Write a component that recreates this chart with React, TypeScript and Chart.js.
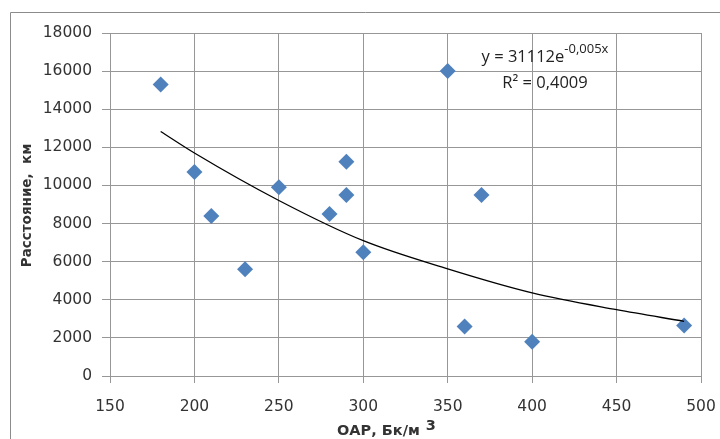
import React, { useEffect, useRef } from 'react';
import { Chart, registerables } from 'chart.js';

Chart.register(...registerables);

// Scatter data: ОАР (Бк/м³) vs Расстояние (км)
const oarValues = [180, 200, 210, 230, 250, 280, 290, 290, 300, 350, 360, 370, 400, 490];
const distanceValues = [15300, 10700, 8400, 5600, 9900, 8500, 11250, 9500, 6500, 16000, 2600, 9500, 1800, 2650];

// Exponential trendline
const trendX = [180, 200, 250, 300, 350, 400, 450, 490];
const trendY = [12830, 11700, 9210, 7100, 5620, 4360, 3480, 2870];

// Axis ticks
const xTickValues = [150, 200, 250, 300, 350, 400, 450, 500];
const yTickValues = [0, 2000, 4000, 6000, 8000, 10000, 12000, 14000, 16000, 18000];

// Texts
const xTitle = 'ОАР, Бк/м';
const xTitleSup = '3';
const yTitle = 'Расстояние,  км';
const equationMain = 'y = 31112e';
const equationExp = '-0,005x';
const r2Text = 'R² = 0,4009';

const GRID = '#979797';
const TEXT = '#333333';
const MARKER = '#4f81bd';

const overlayPlugin = {
  id: 'overlay',
  afterDraw(chart: any) {
    const ctx = chart.ctx as CanvasRenderingContext2D;
    const area = chart.chartArea;
    ctx.save();
    // outer frame (right and bottom sides lie outside the picture)
    ctx.strokeStyle = '#8c8c8c';
    ctx.lineWidth = 1;
    ctx.beginPath();
    ctx.moveTo(10.5, chart.height);
    ctx.lineTo(10.5, 12.5);
    ctx.lineTo(chart.width, 12.5);
    ctx.stroke();

    // equation
    const cx = area.left + 435;
    const mainFont = '16.5px "Open Sans"';
    const supFont = '13px "Open Sans"';
    ctx.fillStyle = '#222';
    ctx.textBaseline = 'alphabetic';
    ctx.textAlign = 'left';
    ctx.font = mainFont;
    const wMain = ctx.measureText(equationMain).width;
    ctx.font = supFont;
    const wSup = ctx.measureText(equationExp).width;
    const x0 = cx - (wMain + wSup) / 2;
    const base1 = area.top + 29;
    ctx.font = mainFont;
    ctx.fillText(equationMain, x0, base1);
    ctx.font = supFont;
    ctx.fillText(equationExp, x0 + wMain, base1 - 9);
    ctx.font = mainFont;
    ctx.textAlign = 'center';
    ctx.fillText(r2Text, cx, area.top + 55);

    // x title
    ctx.fillStyle = TEXT;
    ctx.textAlign = 'left';
    ctx.font = 'bold 14.5px "DejaVu Sans"';
    const xt0 = 337;
    ctx.fillText(xTitle, xt0, 435);
    const wx = ctx.measureText(xTitle).width;
    ctx.fillText(xTitleSup, xt0 + wx + 6, 430);

    // y title
    ctx.translate(27, (area.top + area.bottom) / 2 + 1);
    ctx.rotate(-Math.PI / 2);
    ctx.textAlign = 'center';
    ctx.textBaseline = 'middle';
    ctx.font = 'bold 13.5px "DejaVu Sans"';
    ctx.fillText(yTitle, 0, 0);
    ctx.restore();
  },
};

export default function App() {
  const canvasRef = useRef<HTMLCanvasElement | null>(null);

  useEffect(() => {
    if (!canvasRef.current) return;
    const chart = new Chart(canvasRef.current, {
      type: 'scatter',
      data: {
        datasets: [
          {
            label: 'trend',
            data: trendX.map((x, i) => ({ x, y: trendY[i] })),
            showLine: true,
            borderColor: '#000000',
            borderWidth: 1.3,
            pointRadius: 0,
            pointHoverRadius: 0,
            cubicInterpolationMode: 'monotone',
            fill: false,
          } as any,
          {
            label: 'data',
            data: oarValues.map((x, i) => ({ x, y: distanceValues[i] })),
            pointStyle: 'rectRot',
            pointRadius: 8,
            pointHoverRadius: 8,
            backgroundColor: MARKER,
            borderColor: MARKER,
            borderWidth: 0,
            showLine: false,
          } as any,
        ],
      },
      options: {
        responsive: false,
        animation: false,
        devicePixelRatio: 1,
        layout: { padding: { top: 33, right: 19, left: 0, bottom: 0 } },
        plugins: {
          legend: { display: false },
          tooltip: { enabled: false },
          title: { display: false },
        },
        scales: {
          x: {
            type: 'linear',
            min: xTickValues[0],
            max: xTickValues[xTickValues.length - 1],
            afterBuildTicks: (scale: any) => {
              scale.ticks = xTickValues.map((v) => ({ value: v }));
            },
            afterFit: (scale: any) => {
              scale.height = 63;
              scale.paddingLeft = 0;
              scale.paddingRight = 0;
            },
            grid: { color: GRID, lineWidth: 1, tickLength: 7, tickColor: GRID },
            border: { color: GRID, width: 1 },
            ticks: {
              color: TEXT,
              padding: 15,
              font: { family: 'DejaVu Sans', size: 15.5 },
              maxRotation: 0,
            },
          },
          y: {
            type: 'linear',
            min: yTickValues[0],
            max: yTickValues[yTickValues.length - 1],
            afterBuildTicks: (scale: any) => {
              scale.ticks = yTickValues.map((v) => ({ value: v }));
            },
            afterFit: (scale: any) => {
              scale.width = 110;
            },
            grid: { color: GRID, lineWidth: 1, tickLength: 8, tickColor: GRID },
            border: { color: GRID, width: 1 },
            ticks: {
              color: TEXT,
              padding: 10,
              font: { family: 'DejaVu Sans', size: 15.5 },
              callback: (v: any) => String(v),
            },
          },
        },
      },
      plugins: [overlayPlugin],
    });
    return () => chart.destroy();
  }, []);

  return (
    <div style={{ position: 'absolute', left: 0, top: 0, width: 720, height: 439, background: '#fff' }}>
      <canvas ref={canvasRef} width={720} height={439} style={{ display: 'block' }} />
    </div>
  );
}
